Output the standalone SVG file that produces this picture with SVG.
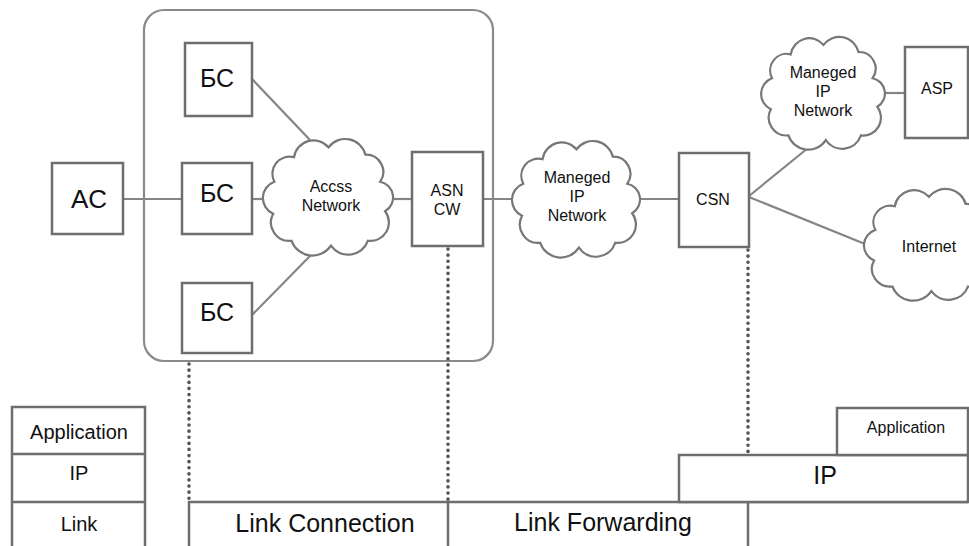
<svg xmlns="http://www.w3.org/2000/svg" xmlns:xlink="http://www.w3.org/1999/xlink" width="969" height="546" viewBox="0 0 969 546">
  <style>
    .box { fill: #fff; stroke: #6e6e6e; stroke-width: 2.5; }
    .frame { fill: none; stroke: #8a8a8a; stroke-width: 2.2; }
    .cloud { fill: #fff; stroke: #777; stroke-width: 2.2; vector-effect: non-scaling-stroke; }
    .link { fill: none; stroke: #858585; stroke-width: 2.2; }
    .dots { fill: none; stroke: #555; stroke-width: 3.6; stroke-linecap: round; stroke-dasharray: 0.1 6; }
    .layer { fill: none; stroke: #6e6e6e; stroke-width: 2.5; }
    text { font-family: "Liberation Sans", Arial, sans-serif; fill: #111; text-anchor: middle; }
    .big { font-size: 26px; }
    .mid { font-size: 25px; }
    .sm { font-size: 16px; }
    .stack { font-size: 20px; }
  </style>
  <defs>
    <!-- generic scalloped cloud in a 100x100 box -->
    <path id="cloudShape" class="cloud" d="M22,18 A16,16 0 0 1 50,10 A17,17 0 0 1 80,16 A14,14 0 0 1 92,38 A13,13 0 0 1 96,62 A15,15 0 0 1 82,86 A17,17 0 0 1 52,90 A18,18 0 0 1 20,86 A15,15 0 0 1 5,64 A14,14 0 0 1 6,38 A14,14 0 0 1 22,18 Z"/>
  </defs>

  <!-- access service network frame -->
  <rect class="frame" x="144" y="10" width="349" height="351" rx="20" ry="20"/>

  <!-- connectors -->
  <g id="connectors">
    <line class="link" x1="123" y1="199" x2="182" y2="199"/>
    <line class="link" x1="252" y1="199" x2="270" y2="199"/>
    <line class="link" x1="252" y1="79" x2="310" y2="140"/>
    <line class="link" x1="252" y1="315" x2="310" y2="256"/>
    <line class="link" x1="388" y1="199" x2="412" y2="199"/>
    <line class="link" x1="483" y1="199" x2="519" y2="199"/>
    <line class="link" x1="634" y1="199" x2="679" y2="199"/>
    <line class="link" x1="749" y1="196" x2="808" y2="148"/>
    <line class="link" x1="749" y1="197" x2="870" y2="246"/>
    <line class="link" x1="880" y1="93" x2="905" y2="93"/>
    <!-- dotted drops to the protocol layers -->
    <line class="dots" x1="189" y1="364" x2="189" y2="500"/>
    <line class="dots" x1="448" y1="249" x2="448" y2="500"/>
    <line class="dots" x1="748" y1="250" x2="748" y2="453"/>
  </g>

  <g id="ac">
    <rect class="box" x="52" y="163" width="71" height="71"/>
    <text class="big" x="89" y="208">AC</text>
  </g>
  <g id="bs1">
    <rect class="box" x="185" y="43" width="67" height="73"/>
    <text class="mid" x="217" y="87">БС</text>
  </g>
  <g id="bs2">
    <rect class="box" x="182" y="163" width="70" height="71"/>
    <text class="mid" x="217" y="202">БС</text>
  </g>
  <g id="bs3">
    <rect class="box" x="182" y="283" width="70" height="70"/>
    <text class="mid" x="217" y="321">БС</text>
  </g>

  <g id="access-network">
    <use xlink:href="#cloudShape" transform="translate(267,135) scale(1.23,1.23)"/>
    <text class="sm" x="331" y="192">Accss</text>
    <text class="sm" x="331" y="211">Network</text>
  </g>

  <g id="asn-gw">
    <rect class="box" x="412" y="152" width="71" height="94"/>
    <text class="sm" x="447" y="196">ASN</text>
    <text class="sm" x="447" y="215">CW</text>
  </g>

  <g id="managed-ip-1">
    <use xlink:href="#cloudShape" transform="translate(516,137) scale(1.21,1.23)"/>
    <text class="sm" x="577" y="183">Maneged</text>
    <text class="sm" x="577" y="202">IP</text>
    <text class="sm" x="577" y="221">Network</text>
  </g>

  <g id="csn">
    <rect class="box" x="679" y="153" width="70" height="94"/>
    <text class="sm" x="713" y="205">CSN</text>
  </g>

  <g id="managed-ip-2">
    <use xlink:href="#cloudShape" transform="translate(765,33) scale(1.17,1.19)"/>
    <text class="sm" x="823" y="78">Maneged</text>
    <text class="sm" x="823" y="97">IP</text>
    <text class="sm" x="823" y="116">Network</text>
  </g>

  <g id="asp">
    <rect class="box" x="905" y="47" width="63" height="91"/>
    <text class="sm" x="937" y="94">ASP</text>
  </g>

  <g id="internet">
    <use xlink:href="#cloudShape" transform="translate(868,185) scale(1.22,1.18)"/>
    <text class="sm" x="929" y="252">Internet</text>
  </g>

  <!-- terminal protocol stack -->
  <g id="stack-terminal">
    <path class="layer" d="M12,546 V407 H145 V546 M12,454 H145 M12,502 H145"/>
    <text class="stack" x="79" y="439">Application</text>
    <text class="stack" x="79" y="480">IP</text>
    <text class="stack" x="79" y="531">Link</text>
  </g>

  <!-- network-side layers -->
  <g id="layer-link">
    <path class="layer" d="M189,546 V502 H968 M448,502 V546 M748,502 V546"/>
    <text class="mid" x="325" y="532">Link Connection</text>
    <text class="mid" x="603" y="531">Link Forwarding</text>
  </g>
  <g id="layer-ip">
    <rect class="box" x="679" y="455" width="289" height="47"/>
    <text class="mid" x="825" y="484">IP</text>
  </g>
  <g id="layer-app">
    <rect class="box" x="837" y="408" width="131" height="47"/>
    <text class="sm" x="906" y="433">Application</text>
  </g>
</svg>
